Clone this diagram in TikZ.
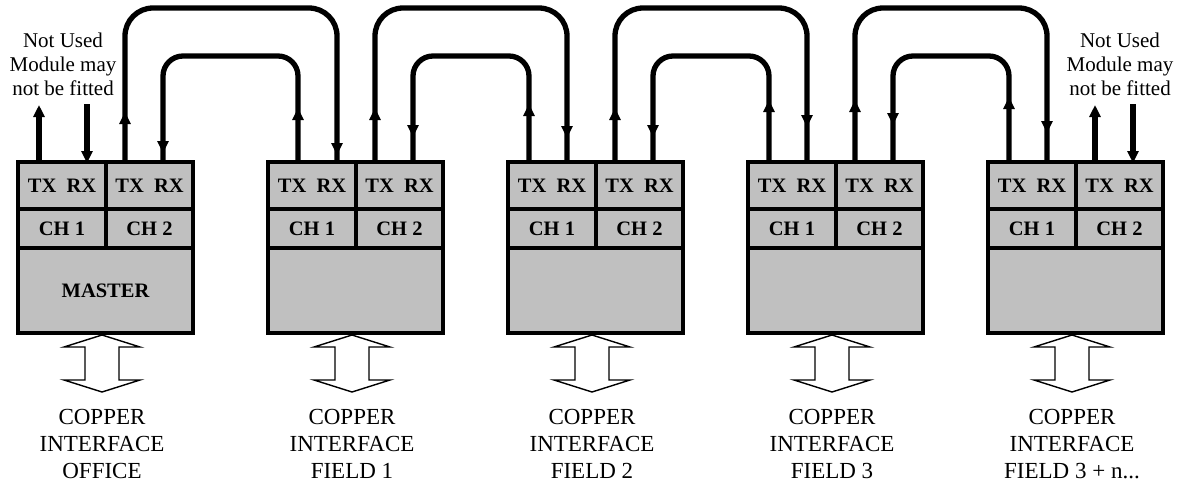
\documentclass[tikz,border=0pt]{standalone}
\usepackage{fontspec}
\setmainfont{Liberation Serif}
\usetikzlibrary{arrows.meta,decorations.markings}
\definecolor{boxgray}{HTML}{C0C0C0}
\begin{document}
\begin{tikzpicture}[x=1pt,y=-1pt,
  cell/.style={draw, line width=3.3pt, fill=boxgray, inner sep=0pt, outer sep=0pt,
    font=\fontsize{20.5}{22}\selectfont\bfseries},
  outerbox/.style={draw, line width=4.3pt},
  wire/.style={line width=5.3pt},
  hd/.style={-{Triangle[length=12pt,width=11pt]}},
  linkpath/.style n args={3}{wire, rounded corners=#1,
    postaction={decorate, decoration={markings,
      mark=at position #2pt with {\arrow{Triangle[length=12pt,width=11pt]}},
      mark=at position -#3pt with {\arrow{Triangle[length=12pt,width=11pt]}}}}},
  blockarrow/.style={draw, line width=1.4pt, fill=white, line join=miter},
  lbl/.style={align=center, inner sep=0pt, font=\fontsize{23}{27}\selectfont},
  nulbl/.style={align=center, inner sep=0pt, font=\fontsize{21}{24}\selectfont}
]
\useasboundingbox (0,0) rectangle (1184,488);

% port coordinates
\foreach \i/\a/\b/\c/\d in {1/39/87/125/163, 2/298/337/375/413, 3/529/567/615/653,
                            4/769/807/855/893, 5/1009/1047/1095/1133}{
  \coordinate (m\i-c1tx) at (\a,162);
  \coordinate (m\i-c1rx) at (\b,162);
  \coordinate (m\i-c2tx) at (\c,162);
  \coordinate (m\i-c2rx) at (\d,162);
}

% links between modules
\draw[linkpath={28}{50}{7}]  (m1-c2tx) -- ++(0,-154) -| (m2-c1rx);
\draw[linkpath={20}{54}{9}]  (m2-c1tx) -- ++(0,-106) -| (m1-c2rx);
\draw[linkpath={28}{54}{24}] (m2-c2tx) -- ++(0,-154) -| (m3-c1rx);
\draw[linkpath={20}{58}{25}] (m3-c1tx) -- ++(0,-106) -| (m2-c2rx);
\draw[linkpath={28}{54}{35}] (m3-c2tx) -- ++(0,-154) -| (m4-c1rx);
\draw[linkpath={20}{62}{25}] (m4-c1tx) -- ++(0,-106) -| (m3-c2rx);
\draw[linkpath={28}{62}{29}] (m4-c2tx) -- ++(0,-154) -| (m5-c1rx);
\draw[linkpath={20}{65}{37}] (m5-c1tx) -- ++(0,-106) -| (m4-c2rx);

% unused channels
\coordinate (m1-nutx) at (39,105);
\coordinate (m1-nurx) at (87,104);
\coordinate (m5-nutx) at (1095,105);
\coordinate (m5-nurx) at (1133,104);
\draw[wire,hd] (m1-c1tx) -- (m1-nutx);
\draw[wire,hd] (m1-nurx) -- ([yshift=-1pt]m1-c1rx);
\draw[wire,hd] (m5-c2tx) -- (m5-nutx);
\draw[wire,hd] (m5-nurx) -- ([yshift=-1pt]m5-c2rx);

\node[nulbl, anchor=north] (nu1) at (63,33) {Not Used\\Module may\\not be fitted};
\node[nulbl, anchor=north] (nu5) at (1120,33) {Not Used\\Module may\\not be fitted};

% modules
\foreach \i/\xo/\lab in {1/18/MASTER, 2/268/, 3/508/, 4/748/, 5/988/}{
  \node[cell, minimum width=88pt, minimum height=47pt] (m\i-tr1) at (\xo+44,185.5) {TX~~RX};
  \node[cell, minimum width=87pt, minimum height=47pt] (m\i-tr2) at (\xo+131.5,185.5) {TX~~RX};
  \node[cell, minimum width=88pt, minimum height=39pt] (m\i-ch1) at (\xo+44,228.5) {\raisebox{-4pt}{CH~1}};
  \node[cell, minimum width=87pt, minimum height=39pt] (m\i-ch2) at (\xo+131.5,228.5) {\raisebox{-4pt}{CH~2}};
  \node[cell, minimum width=175pt, minimum height=85pt] (m\i-base) at (\xo+87.5,290.5) {\lab};
  \draw[outerbox] (m\i-tr1.north west) rectangle (m\i-base.south east);
  \draw[blockarrow] (\xo+84,335) -- (\xo+122,347) -- (\xo+101,347) -- (\xo+101,380)
    -- (\xo+122,380) -- (\xo+84,392) -- (\xo+46,380) -- (\xo+67,380) -- (\xo+67,347)
    -- (\xo+46,347) -- cycle;
}

% copper interface labels
\node[lbl, anchor=north] (ci1) at (102,409.5) {COPPER\\INTERFACE\\OFFICE};
\node[lbl, anchor=north] (ci2) at (352,409.5) {COPPER\\INTERFACE\\FIELD 1};
\node[lbl, anchor=north] (ci3) at (592,409.5) {COPPER\\INTERFACE\\FIELD 2};
\node[lbl, anchor=north] (ci4) at (832,409.5) {COPPER\\INTERFACE\\FIELD 3};
\node[lbl, anchor=north] (ci5) at (1072,409.5) {COPPER\\INTERFACE\\FIELD 3 + n...};
\end{tikzpicture}
\end{document}
